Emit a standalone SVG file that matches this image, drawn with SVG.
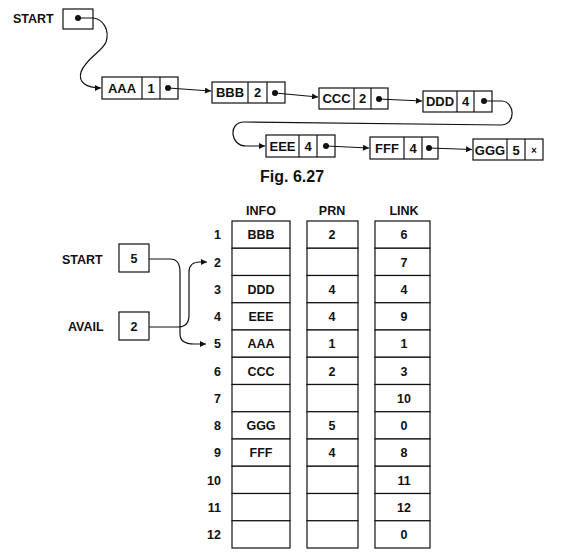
<svg xmlns="http://www.w3.org/2000/svg" width="567" height="559" viewBox="0 0 567 559">
<defs>
<marker id="ah" viewBox="0 0 10 10" refX="10" refY="5" markerWidth="7" markerHeight="6" orient="auto" markerUnits="userSpaceOnUse">
<path d="M0,0 L10,5 L0,10 Z" fill="#111"/>
</marker>
<style>
rect{fill:#fff;stroke:#111;stroke-width:1.2}
line.d{stroke:#111;stroke-width:1.2}
.t{font-family:"Liberation Sans",Arial,sans-serif;font-weight:bold;fill:#111}
.n{font-size:13px;text-anchor:middle}
.c{font-size:12.5px;text-anchor:middle}
.r{font-size:12.5px;text-anchor:end}
.l{font-size:12.5px}
.dot{fill:#111}
.conn path{fill:none;stroke:#111;stroke-width:1.2}
</style>
</defs>
<rect x="0" y="0" width="567" height="559" style="fill:#fff;stroke:none"/>

<!-- Top linked list -->
<g id="start-top">
<text class="t l" x="13" y="23">START</text>
<rect x="63" y="9" width="30" height="20"/>
<circle class="dot" cx="78" cy="18" r="3"/>
</g>
<g id="node-aaa">
<rect x="102" y="77" width="76" height="22"/>
<line class="d" x1="142" y1="77" x2="142" y2="99"/><line class="d" x1="160" y1="77" x2="160" y2="99"/>
<text class="t n" x="122" y="93">AAA</text><text class="t n" x="151" y="93">1</text>
<circle class="dot" cx="168" cy="88" r="3"/>
</g>
<g id="node-bbb">
<rect x="212" y="82" width="73" height="21"/>
<line class="d" x1="248" y1="82" x2="248" y2="103"/><line class="d" x1="267" y1="82" x2="267" y2="103"/>
<text class="t n" x="230" y="97">BBB</text><text class="t n" x="257.5" y="97">2</text>
<circle class="dot" cx="275" cy="93" r="3"/>
</g>
<g id="node-ccc">
<rect x="319" y="88" width="69" height="21"/>
<line class="d" x1="354" y1="88" x2="354" y2="109"/><line class="d" x1="371" y1="88" x2="371" y2="109"/>
<text class="t n" x="336.5" y="103">CCC</text><text class="t n" x="362.5" y="103">2</text>
<circle class="dot" cx="379" cy="99" r="3"/>
</g>
<g id="node-ddd">
<rect x="423" y="91" width="69" height="21"/>
<line class="d" x1="457" y1="91" x2="457" y2="112"/><line class="d" x1="474" y1="91" x2="474" y2="112"/>
<text class="t n" x="440" y="106">DDD</text><text class="t n" x="465.5" y="106">4</text>
<circle class="dot" cx="484" cy="101" r="3"/>
</g>
<g id="node-eee">
<rect x="266" y="135" width="69" height="22"/>
<line class="d" x1="299" y1="135" x2="299" y2="157"/><line class="d" x1="317" y1="135" x2="317" y2="157"/>
<text class="t n" x="282.5" y="151">EEE</text><text class="t n" x="308" y="151">4</text>
<circle class="dot" cx="326" cy="146" r="3"/>
</g>
<g id="node-fff">
<rect x="370" y="137" width="68" height="22"/>
<line class="d" x1="404" y1="137" x2="404" y2="159"/><line class="d" x1="422" y1="137" x2="422" y2="159"/>
<text class="t n" x="387" y="153">FFF</text><text class="t n" x="413" y="153">4</text>
<circle class="dot" cx="429" cy="148" r="3"/>
</g>
<g id="node-ggg">
<rect x="473" y="139" width="70" height="21"/>
<line class="d" x1="507" y1="139" x2="507" y2="160"/><line class="d" x1="525" y1="139" x2="525" y2="160"/>
<text class="t n" x="490" y="155">GGG</text><text class="t n" x="516" y="155">5</text>
<text class="t" x="534" y="154" style="font-size:10px;text-anchor:middle">×</text>
</g>
<text class="t" x="260" y="182" style="font-size:16px">Fig. 6.27</text>

<!-- Table -->
<g id="headers">
<text class="t c" x="261" y="215">INFO</text>
<text class="t c" x="332" y="215">PRN</text>
<text class="t c" x="404" y="215">LINK</text>
</g>
<g id="start-bottom">
<text class="t l" x="62" y="264">START</text>
<rect x="119" y="244" width="30" height="28"/>
<text class="t c" x="134" y="263">5</text>
</g>
<g id="avail">
<text class="t l" x="68" y="331">AVAIL</text>
<rect x="119" y="312" width="30" height="28"/>
<text class="t c" x="134" y="331">2</text>
</g>
<g id="table">
<g id="row1"><text class="t r" x="221" y="239">1</text><rect x="232" y="221" width="58" height="27.25"/><rect x="307" y="221" width="51" height="27.25"/><rect x="375" y="221" width="55" height="27.25"/><text class="t c" x="261" y="239">BBB</text><text class="t c" x="332" y="239">2</text><text class="t c" x="404" y="239">6</text></g>
<g id="row2"><text class="t r" x="221" y="266.5">2</text><rect x="232" y="248.25" width="58" height="27.25"/><rect x="307" y="248.25" width="51" height="27.25"/><rect x="375" y="248.25" width="55" height="27.25"/><text class="t c" x="404" y="266.5">7</text></g>
<g id="row3"><text class="t r" x="221" y="293.5">3</text><rect x="232" y="275.5" width="58" height="27.25"/><rect x="307" y="275.5" width="51" height="27.25"/><rect x="375" y="275.5" width="55" height="27.25"/><text class="t c" x="261" y="293.5">DDD</text><text class="t c" x="332" y="293.5">4</text><text class="t c" x="404" y="293.5">4</text></g>
<g id="row4"><text class="t r" x="221" y="321">4</text><rect x="232" y="302.75" width="58" height="27.25"/><rect x="307" y="302.75" width="51" height="27.25"/><rect x="375" y="302.75" width="55" height="27.25"/><text class="t c" x="261" y="321">EEE</text><text class="t c" x="332" y="321">4</text><text class="t c" x="404" y="321">9</text></g>
<g id="row5"><text class="t r" x="221" y="348">5</text><rect x="232" y="330" width="58" height="27.25"/><rect x="307" y="330" width="51" height="27.25"/><rect x="375" y="330" width="55" height="27.25"/><text class="t c" x="261" y="348">AAA</text><text class="t c" x="332" y="348">1</text><text class="t c" x="404" y="348">1</text></g>
<g id="row6"><text class="t r" x="221" y="375.5">6</text><rect x="232" y="357.25" width="58" height="27.25"/><rect x="307" y="357.25" width="51" height="27.25"/><rect x="375" y="357.25" width="55" height="27.25"/><text class="t c" x="261" y="375.5">CCC</text><text class="t c" x="332" y="375.5">2</text><text class="t c" x="404" y="375.5">3</text></g>
<g id="row7"><text class="t r" x="221" y="402.5">7</text><rect x="232" y="384.5" width="58" height="27.25"/><rect x="307" y="384.5" width="51" height="27.25"/><rect x="375" y="384.5" width="55" height="27.25"/><text class="t c" x="404" y="402.5">10</text></g>
<g id="row8"><text class="t r" x="221" y="430">8</text><rect x="232" y="411.75" width="58" height="27.25"/><rect x="307" y="411.75" width="51" height="27.25"/><rect x="375" y="411.75" width="55" height="27.25"/><text class="t c" x="261" y="430">GGG</text><text class="t c" x="332" y="430">5</text><text class="t c" x="404" y="430">0</text></g>
<g id="row9"><text class="t r" x="221" y="457">9</text><rect x="232" y="439" width="58" height="27.25"/><rect x="307" y="439" width="51" height="27.25"/><rect x="375" y="439" width="55" height="27.25"/><text class="t c" x="261" y="457">FFF</text><text class="t c" x="332" y="457">4</text><text class="t c" x="404" y="457">8</text></g>
<g id="row10"><text class="t r" x="221" y="484.5">10</text><rect x="232" y="466.25" width="58" height="27.25"/><rect x="307" y="466.25" width="51" height="27.25"/><rect x="375" y="466.25" width="55" height="27.25"/><text class="t c" x="404" y="484.5">11</text></g>
<g id="row11"><text class="t r" x="221" y="511.5">11</text><rect x="232" y="493.5" width="58" height="27.25"/><rect x="307" y="493.5" width="51" height="27.25"/><rect x="375" y="493.5" width="55" height="27.25"/><text class="t c" x="404" y="511.5">12</text></g>
<g id="row12"><text class="t r" x="221" y="539">12</text><rect x="232" y="520.75" width="58" height="27.25"/><rect x="307" y="520.75" width="51" height="27.25"/><rect x="375" y="520.75" width="55" height="27.25"/><text class="t c" x="404" y="539">0</text></g>
</g>

<g id="connectors" class="conn">
<path d="M78,18 H93 C103,19 110,30 106,42 C102,52 86,58 81,72 C78,82 86,88 101,88" marker-end="url(#ah)"/>
<path d="M168,88 L211,91" marker-end="url(#ah)"/>
<path d="M275,93 L318,97" marker-end="url(#ah)"/>
<path d="M379,99 L422,101" marker-end="url(#ah)"/>
<path d="M484,101 H502 C515,102 516,124 502,125 L244,122 C228,122 230,146 246,146 H265" marker-end="url(#ah)"/>
<path d="M326,146 L369,148" marker-end="url(#ah)"/>
<path d="M429,148 L472,149.5" marker-end="url(#ah)"/>
<path d="M149,259 H170 C177,259 180,264 180,272 V334 C180,341 186,344 194,344 H206" marker-end="url(#ah)"/>
<path d="M149,327 H178 C185,327 189,323 189,315 V272 C189,265 193,262 200,262 H207" marker-end="url(#ah)"/>
</g>
</svg>
